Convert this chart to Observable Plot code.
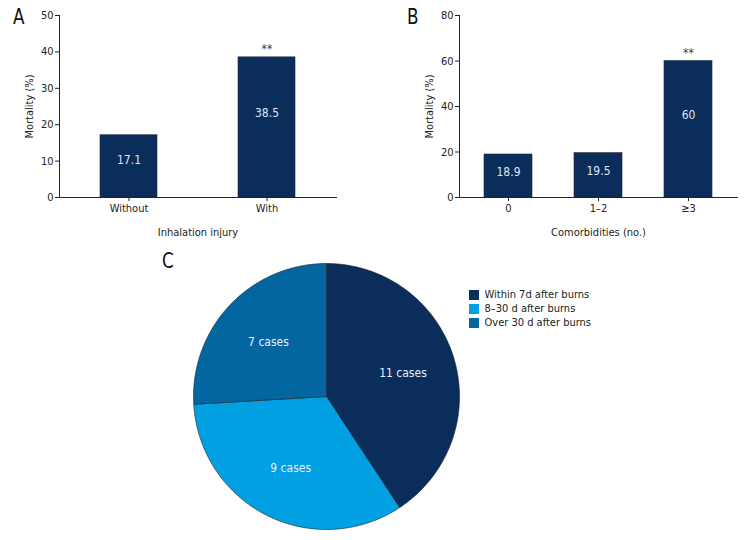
<!DOCTYPE html>
<html><head><meta charset="utf-8">
<script src="https://cdn.jsdelivr.net/npm/d3@7"></script>
<script src="https://cdn.jsdelivr.net/npm/@observablehq/plot@0.6"></script>
<style>
body{margin:0;background:#fff;}
#wrap{position:relative;width:756px;height:540px;overflow:hidden;font-family:"DejaVu Sans Condensed","DejaVu Sans",sans-serif;font-stretch:condensed;}
#wrap svg, #wrap svg text, #wrap div{font-stretch:condensed;}
.panel{position:absolute;}
.letter{position:absolute;font-size:22px;color:#111;line-height:1;transform:scaleX(0.85);transform-origin:left top;}
</style></head><body>
<div id="wrap">
  <div class="panel" id="pA" style="left:0;top:0"></div>
  <div class="panel" id="pB" style="left:400px;top:0"></div>
  <div class="panel" id="pC" style="left:150px;top:250px"></div>
  <div class="panel" id="leg" style="left:469px;top:288px"></div>
  <div class="letter" style="left:13px;top:6px">A</div>
  <div class="letter" style="left:407px;top:6px">B</div>
  <div class="letter" style="left:162px;top:250px">C</div>
</div>
<script>
const injuryCats = ["Without", "With"];
const injuryMortality = [17.1, 38.5];
const injurySig = ["", "**"];
const yTicksA = [0, 10, 20, 30, 40, 50];

const comorbCats = ["0", "1\u20132", "\u22653"];
const comorbMortality = [18.9, 19.5, 60];
const comorbSig = ["", "", "**"];
const yTicksB = [0, 20, 40, 60, 80];

const deathCats = ["Within 7d after burns", "8\u201330 d after burns", "Over 30 d after burns"];
const deathCases = [11, 9, 7];

const FONT = '"DejaVu Sans Condensed","DejaVu Sans",sans-serif';
const barColor = "#0b2d5b";
const pieColors = ["#0b2d5b", "#00a0e3", "#0466a1"];

function barPanel({cats, vals, sig, yMax, yTicks, xLabel, width, marginRight, paddingInner, paddingOuter}) {
  const data = cats.map((c, i) => ({c, v: vals[i], s: sig[i]}));
  return Plot.plot({
    width, height: 250,
    marginLeft: 59, marginRight, marginTop: 15, marginBottom: 53,
    style: {fontFamily: FONT, fontStretch: "condensed", fontSize: "11px", color: "#222", background: "none", overflow: "visible"},
    x: {domain: cats, paddingInner, paddingOuter, line: true, tickSize: 4, tickPadding: 3,
        label: xLabel, labelAnchor: "center", labelOffset: 38, labelArrow: "none"},
    y: {domain: [0, yMax], ticks: yTicks, line: true, tickSize: 4, tickPadding: 2,
        label: "Mortality (%)", labelAnchor: "center", labelOffset: 34, labelArrow: "none"},
    marks: [
      Plot.barY(data, {x: "c", y: "v", fill: barColor, stroke: "#1d2a3c", strokeWidth: 0.6}),
      Plot.text(data, {x: "c", y: d => d.v * 0.6, text: d => String(d.v), fill: "#dde7f3", fontSize: 12}),
      Plot.text(data, {x: "c", y: "v", text: "s", dy: -8, fill: "#444", fontSize: 12})
    ]
  });
}

document.getElementById("pA").append(barPanel({
  cats: injuryCats, vals: injuryMortality, sig: injurySig, yMax: 50, yTicks: yTicksA,
  xLabel: "Inhalation injury", width: 345, marginRight: 9, paddingInner: 0.584, paddingOuter: 0.29
}));
document.getElementById("pB").append(barPanel({
  cats: comorbCats, vals: comorbMortality, sig: comorbSig, yMax: 80, yTicks: yTicksB,
  xLabel: "Comorbidities (no.)", width: 356, marginRight: 19, paddingInner: 0.47, paddingOuter: 0.276
}));

// Pie
const arcs = d3.pie().sort(null).value(d => d)(deathCases);
const piePts = [];
arcs.forEach((a, i) => {
  piePts.push({k: deathCats[i], x: 0, y: 0});
  const n = Math.ceil((a.endAngle - a.startAngle) / 0.01);
  for (let j = 0; j <= n; j++) {
    const t = a.startAngle + (a.endAngle - a.startAngle) * j / n;
    piePts.push({k: deathCats[i], x: Math.sin(t), y: Math.cos(t)});
  }
  piePts.push({k: deathCats[i], x: 0, y: 0});
});
const pieLabels = arcs.map((a, i) => {
  const m = (a.startAngle + a.endAngle) / 2;
  return {x: 0.6 * Math.sin(m), y: 0.6 * Math.cos(m), t: `${deathCases[i]} cases`};
});
document.getElementById("pC").append(Plot.plot({
  width: 606, height: 290, margin: 0,
  style: {fontFamily: FONT, fontStretch: "condensed", fontSize: "12px", background: "none", overflow: "visible"},
  x: {domain: [-1, 1], range: [43, 309], axis: null},
  y: {domain: [-1, 1], range: [279, 13], axis: null},
  color: {domain: deathCats, range: pieColors},
  marks: [
    Plot.line(piePts, {x: "x", y: "y", z: "k", fill: "k", stroke: "#1a1f2a", strokeWidth: 0.6, curve: "linear"}),
    Plot.text(pieLabels, {x: "x", y: "y", text: "t", fill: "#e8eff8", fontSize: 12})
  ]
}));

document.getElementById("leg").append(Plot.legend({
  color: {type: "ordinal", domain: deathCats, range: pieColors},
  columns: 1, swatchSize: 10,
  style: {fontFamily: FONT, fontStretch: "condensed", fontSize: "11px", color: "#222"}
}));
</script>
</body></html>
